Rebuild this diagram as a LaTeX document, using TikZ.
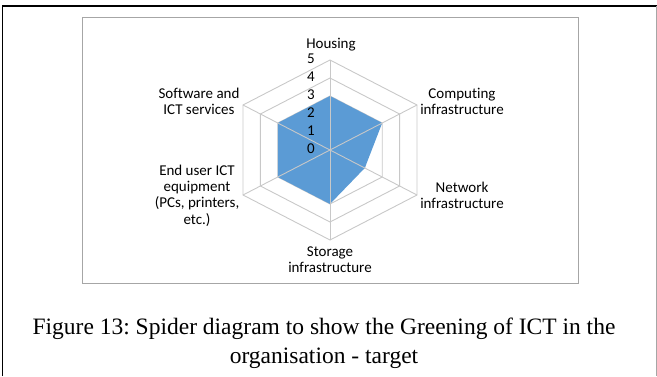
\documentclass[tikz,border=0pt]{standalone}
\usepackage{fontspec}
\setmainfont{Liberation Serif}
\newfontfamily\chartfont[Ligatures=NoCommon]{Carlito}
\usetikzlibrary{positioning}
\frenchspacing
\definecolor{radarblue}{RGB}{91,155,213}
\definecolor{gridgray}{RGB}{200,200,200}
\definecolor{framegray}{RGB}{166,166,166}
\tikzset{
  gridline/.style={draw=gridgray, line width=0.9pt},
  axislabel/.style={font=\chartfont\fontsize{15}{16.3}\selectfont, align=center, inner sep=0pt},
  ticklabel/.style={font=\chartfont\fontsize{15}{16}\selectfont, inner sep=0pt},
}

\begin{document}
\begin{tikzpicture}[x=1pt,y=1pt]
  \useasboundingbox (0,0) rectangle (657,376);
  % page frame
  \draw[black, line width=1.6pt] (2.5,0) -- (2.5,370) -- (657,370);
  \draw[framegray, line width=0.8pt] (656,370) -- (656,0);
  % chart area
  \draw[framegray, line width=0.8pt] (82,93) rectangle (578,359);

  \begin{scope}[shift={(330,226)}, x={(17.4pt,0)}, y={(0,9pt)}]
    \coordinate (hub) at (0,0);
    \foreach \k in {1,...,5}
      \draw[gridline] (0,2*\k) -- (\k,\k) -- (\k,-\k) -- (0,-2*\k) -- (-\k,-\k) -- (-\k,\k) -- cycle;
    \fill[radarblue] (0,6) -- (3,3) -- (2,-2) -- (0,-6) -- (-3,-3) -- (-3,3) -- cycle;
    \foreach \p in {(0,10),(5,5),(5,-5),(0,-10),(-5,-5),(-5,5)}
      \draw[gridline] (hub) -- \p;
  \end{scope}

  \foreach \k in {0,...,5}
    \node[ticklabel] (tick\k) at (311,227+18*\k) {\k};

  \node[axislabel] (housing) at (331,331) {Housing};
  \node[axislabel] (computing) at (462,274.5) {Computing\\infrastructure};
  \node[axislabel] (network) at (462,181) {Network\\infrastructure};
  \node[axislabel] (storage) at (330,116) {Storage\\infrastructure};
  \node[axislabel] (enduser) at (197,180.5) {End user ICT\\equipment\\(PCs, printers,\\etc.)};
  \node[axislabel] (software) at (199,274.5) {Software and\\ICT services};

  \node[font=\fontsize{23.5}{29}\selectfont, align=center, inner sep=0pt] (caption) at (324,32.5)
    {Figure 13: Spider diagram to show the Greening of ICT in the\\organisation - target};
\end{tikzpicture}
\end{document}
